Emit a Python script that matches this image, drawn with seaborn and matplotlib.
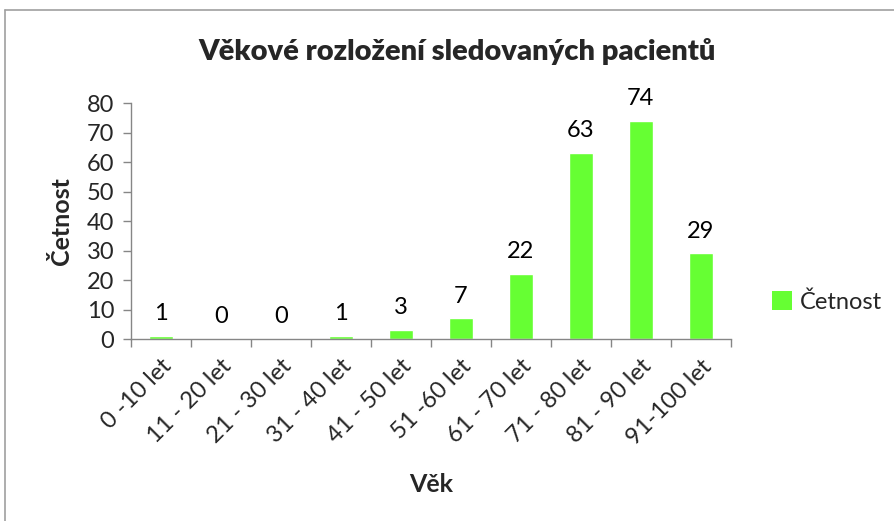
import matplotlib
matplotlib.use("Agg")
import matplotlib.pyplot as plt
import seaborn as sns
import pandas as pd
from matplotlib.lines import Line2D
from matplotlib.patches import Patch

categories = ["0 -10 let", "11 - 20 let", "21 - 30 let", "31 - 40 let", "41 - 50 let",
              "51 -60 let", "61 - 70 let", "71 - 80 let", "81 - 90 let", "91-100 let"]
counts = [1, 0, 0, 1, 3, 7, 22, 63, 74, 29]
series_name = "Četnost"

df = pd.DataFrame({"Věk": categories, series_name: counts})

sns.set_theme(style="white")
plt.rcParams["font.family"] = ["Lato", "DejaVu Sans"]

bar_color = "#66FF33"
axis_color = "#868686"

fig = plt.figure(figsize=(8.94, 5.21), dpi=100)
ax = fig.add_axes([0.1465, 0.3493, 0.671, 0.453])

sns.barplot(data=df, x="Věk", y=series_name, color=bar_color, width=0.4,
            saturation=1, ax=ax)

for i, v in enumerate(counts):
    ax.text(i, v + 4, str(v), ha="center", va="bottom", fontsize=17, color="black")

ax.set_xlim(-0.5, len(categories) - 0.5)
ax.set_ylim(0, 80)
ax.set_yticks(range(0, 81, 10))
ax.tick_params(axis="y", which="major", direction="out", length=6, width=1,
               color=axis_color, labelsize=17, pad=6, left=True)
ax.set_xticks(range(len(categories)))
ax.set_xticklabels(categories, rotation=45, ha="right", rotation_mode="anchor",
                   fontsize=17)
ax.tick_params(axis="x", which="major", length=0, pad=12)
ax.set_xticks([i - 0.5 for i in range(len(categories) + 1)], minor=True)
ax.tick_params(axis="x", which="minor", direction="out", length=6, width=1,
               color=axis_color, bottom=True)

for side in ["top", "right"]:
    ax.spines[side].set_visible(False)
for side in ["left", "bottom"]:
    ax.spines[side].set_color(axis_color)
    ax.spines[side].set_linewidth(1)

ax.set_xlabel("Věk", fontsize=18, fontweight="bold", labelpad=18)
ax.set_ylabel("Četnost", fontsize=18, fontweight="bold", labelpad=10)

fig.text(0.511, 0.902, "Věkové rozložení sledovaných pacientů", ha="center",
         va="center", fontsize=21, fontweight="heavy")

handles = [Patch(facecolor=bar_color, edgecolor="none", label=series_name)]
fig.legend(handles=handles, loc="center left", bbox_to_anchor=(0.864, 0.42),
           frameon=False, fontsize=17, handlelength=0.85, handleheight=0.85,
           handletextpad=0.3, borderpad=0, borderaxespad=0)

fig.add_artist(Line2D([5 / 894, 1], [1 - 10 / 521, 1 - 10 / 521],
                      transform=fig.transFigure, color="#A0A0A0", lw=1.2))
fig.add_artist(Line2D([5 / 894, 5 / 894], [0, 1 - 10 / 521],
                      transform=fig.transFigure, color="#A0A0A0", lw=1.2))

fig.savefig("out.png", dpi=100)
